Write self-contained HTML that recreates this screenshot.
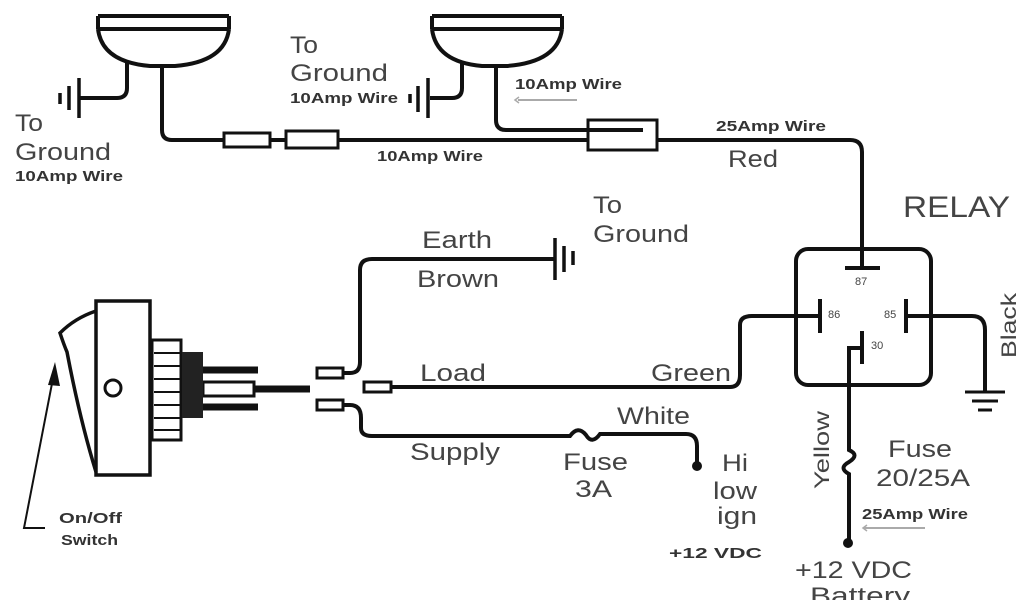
<!DOCTYPE html>
<html><head><meta charset="utf-8"><style>
html,body{margin:0;padding:0;background:#fff;width:1024px;height:600px;overflow:hidden}
svg{display:block}
text{font-family:"Liberation Sans",sans-serif;fill:#444}
.b{font-weight:bold;fill:#333}
</style></head><body>
<svg width="1024" height="600" viewBox="0 0 1024 600" xmlns="http://www.w3.org/2000/svg">
<g fill="none" stroke="#111" stroke-width="4">
<!-- lamp 1 -->
<path d="M98 16 H229 M98 29 H229 M98 16 V29 M229 16 V29"/>
<path d="M98 29 Q102 62 150 66 H175 Q225 62 229 29"/>
<path d="M127 62 V88 Q127 98 117 98 H79"/>
<path d="M162 66 V130 Q162 140 172 140 H224"/>
<!-- lamp 2 -->
<path d="M432 16 H562 M432 29 H562 M432 16 V29 M562 16 V29"/>
<path d="M432 29 Q436 62 482 66 H507 Q558 62 562 29"/>
<path d="M462 62 V88 Q462 98 452 98 H430"/>
<path d="M496 66 V120 Q496 130 506 130 H643"/>
<!-- connectors top -->
<rect x="224" y="133" width="46" height="14" stroke-width="3"/>
<rect x="286" y="131" width="52" height="17" stroke-width="3"/>
<path d="M270 140 H286 M338 140 H588"/>
<rect x="588" y="120" width="69" height="30" stroke-width="3"/>
<path d="M657 140 H850 Q862 140 862 152 V268"/>
<!-- ground bars top -->
<path d="M79 78 V118 M69 86 V110 M60 93 V104" stroke-width="3.5"/>
<path d="M428 78 V118 M418 86 V112 M410 94 V103" stroke-width="3.5"/>
<!-- relay -->
<rect x="796" y="249" width="135" height="136" rx="12"/>
<path d="M845 268 H880"/>
<path d="M820 299 V333 M906 299 V333 M862 331 V364"/>
<path d="M862 348 H849 V450 Q860 455 849 462 Q838 468 849 474 V543"/>
<path d="M906 316 H972 Q985 316 985 330 V392"/>
<path d="M965 392 H1005 M972 401 H998 M978 410 H992" stroke-width="3"/>
<!-- green/load -->
<path d="M390 387 H730 Q740 387 740 375 V325 Q740 316 752 316 H820"/>
<!-- earth -->
<path d="M343 373 H350 Q360 373 360 362 V270 Q360 259 372 259 H555"/>
<path d="M555 238 V280 M564 246 V272 M573 251 V265" stroke-width="3.5"/>
<!-- supply -->
<path d="M343 405 H350 Q361 405 361 418 V428 Q361 436 372 436 H570 Q578 425 586 435 Q592 445 600 434 H686 Q697 434 697 446 V465"/>
<!-- switch connectors -->
<rect x="317" y="368" width="26" height="10" stroke-width="3"/>
<rect x="317" y="400" width="26" height="10" stroke-width="3"/>
<rect x="364" y="382" width="27" height="10" stroke-width="3"/>
<!-- switch body -->
<rect x="96" y="301" width="54" height="174" stroke-width="3.5"/>
<path d="M96 311 Q75 318 60 333 Q64 345 67 352 Q80 420 96 472" stroke-width="3.5"/>
<circle cx="113" cy="388" r="8" stroke-width="3"/>
<rect x="152" y="340" width="29" height="100" stroke-width="3"/>
<path d="M154 353 H180 M154 366 H180 M154 379 H180 M154 392 H180 M154 405 H180 M154 418 H180 M154 430 H180" stroke-width="2"/>
<path d="M203 370 H258 M203 407 H258" stroke-width="7"/>
<rect x="203" y="382" width="51" height="14" stroke-width="3"/>
<path d="M254 389 H310" stroke-width="7"/>
<!-- arrow -->
<path d="M45 528 H24 L55 368" stroke-width="2"/>
</g>
<rect x="182" y="352" width="21" height="66" fill="#222"/>
<path d="M55 362 L48 385 L60 386 Z" fill="#111"/>
<circle cx="697" cy="466" r="5" fill="#111"/>
<circle cx="848" cy="543" r="5" fill="#111"/>
<!-- gray arrows -->
<path d="M518 100 H577" stroke="#aaa" stroke-width="2"/>
<path d="M519 97 L515 100 L519 103" stroke="#aaa" stroke-width="1.5" fill="none"/>
<path d="M864 528 H925" stroke="#aaa" stroke-width="2"/>
<path d="M867 525 L863 528 L867 531" stroke="#aaa" stroke-width="1.5" fill="none"/>
<!-- texts -->
<g font-size="24">
<text x="15" y="131" textLength="28" lengthAdjust="spacingAndGlyphs">To</text>
<text x="15" y="160" textLength="96" lengthAdjust="spacingAndGlyphs">Ground</text>
<text x="290" y="53" textLength="28" lengthAdjust="spacingAndGlyphs">To</text>
<text x="290" y="81" textLength="98" lengthAdjust="spacingAndGlyphs">Ground</text>
<text x="728" y="167" textLength="50" lengthAdjust="spacingAndGlyphs">Red</text>
<text x="593" y="213" textLength="29" lengthAdjust="spacingAndGlyphs">To</text>
<text x="593" y="242" textLength="96" lengthAdjust="spacingAndGlyphs">Ground</text>
<text x="422" y="248" textLength="70" lengthAdjust="spacingAndGlyphs">Earth</text>
<text x="417" y="287" textLength="82" lengthAdjust="spacingAndGlyphs">Brown</text>
<text x="420" y="381" textLength="66" lengthAdjust="spacingAndGlyphs">Load</text>
<text x="651" y="381" textLength="80" lengthAdjust="spacingAndGlyphs">Green</text>
<text x="617" y="424" textLength="73" lengthAdjust="spacingAndGlyphs">White</text>
<text x="410" y="460" textLength="90" lengthAdjust="spacingAndGlyphs">Supply</text>
<text x="563" y="470" textLength="65" lengthAdjust="spacingAndGlyphs">Fuse</text>
<text x="575" y="497" textLength="37" lengthAdjust="spacingAndGlyphs">3A</text>
<text x="722" y="471" textLength="26" lengthAdjust="spacingAndGlyphs">Hi</text>
<text x="713" y="499" textLength="44" lengthAdjust="spacingAndGlyphs">low</text>
<text x="717" y="524" textLength="40" lengthAdjust="spacingAndGlyphs">ign</text>
<text x="888" y="457" textLength="64" lengthAdjust="spacingAndGlyphs">Fuse</text>
<text x="876" y="486" textLength="94" lengthAdjust="spacingAndGlyphs">20/25A</text>
<text x="795" y="578" textLength="117" lengthAdjust="spacingAndGlyphs">+12 VDC</text>
<text x="810" y="604" textLength="100" lengthAdjust="spacingAndGlyphs">Battery</text>
</g>
<text x="903" y="217" font-size="30" textLength="107" lengthAdjust="spacingAndGlyphs">RELAY</text>
<g font-size="15" class="b">
<text class="b" x="15" y="181" textLength="108" lengthAdjust="spacingAndGlyphs">10Amp Wire</text>
<text class="b" x="290" y="103" textLength="108" lengthAdjust="spacingAndGlyphs">10Amp Wire</text>
<text class="b" x="515" y="89" textLength="107" lengthAdjust="spacingAndGlyphs">10Amp Wire</text>
<text class="b" x="377" y="161" textLength="106" lengthAdjust="spacingAndGlyphs">10Amp Wire</text>
<text class="b" x="716" y="131" textLength="110" lengthAdjust="spacingAndGlyphs">25Amp Wire</text>
<text class="b" x="862" y="519" textLength="106" lengthAdjust="spacingAndGlyphs">25Amp Wire</text>
<text class="b" x="669" y="558" textLength="93" lengthAdjust="spacingAndGlyphs">+12 VDC</text>
<text class="b" x="59" y="523" textLength="63" lengthAdjust="spacingAndGlyphs">On/Off</text>
<text class="b" x="61" y="545" textLength="57" lengthAdjust="spacingAndGlyphs">Switch</text>
</g>
<text x="855" y="285" font-size="11">87</text>
<text x="828" y="318" font-size="11">86</text>
<text x="884" y="318" font-size="11">85</text>
<text x="871" y="349" font-size="11">30</text>
<text transform="translate(1016,358) rotate(-90)" font-size="21" textLength="65" lengthAdjust="spacingAndGlyphs">Black</text>
<text transform="translate(829,489) rotate(-90)" font-size="21" textLength="78" lengthAdjust="spacingAndGlyphs">Yellow</text>
</svg>
</body></html>
